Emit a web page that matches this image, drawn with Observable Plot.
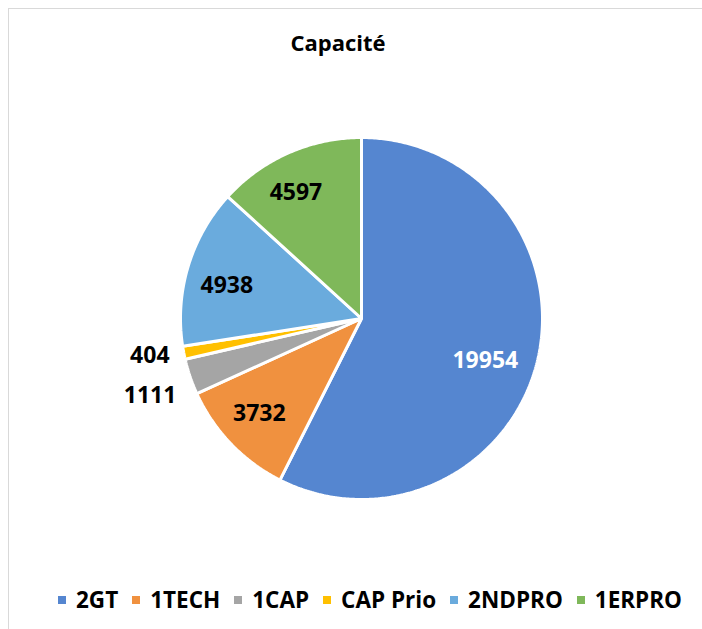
<!DOCTYPE html>
<html>
<head>
<meta charset="utf-8">
<script src="https://cdn.jsdelivr.net/npm/d3@7"></script>
<script src="https://cdn.jsdelivr.net/npm/@observablehq/plot@0.6"></script>
<style>
  html, body { margin: 0; padding: 0; background: #fff; }
  body { width: 702px; height: 629px; position: relative; overflow: hidden; font-family: "Open Sans", sans-serif; }
  #frame { position: absolute; left: 8px; top: 8px; width: 720px; height: 640px; border: 1px solid #d9d9d9; box-sizing: border-box; }
  #title { position: absolute; left: 0; top: 0; width: 676px; height: 70px; text-align: center; font-weight: bold; font-size: 22px; line-height: 84px; color: #000; }
  #chart { position: absolute; left: 0; top: 70px; }
  #legend { position: absolute; left: 58px; top: 584px; display: flex; align-items: center; font-weight: bold; font-size: 22.5px; color: #000; white-space: nowrap; }
  .item { display: flex; align-items: center; margin-right: 14px; }
  .sw { width: 8px; height: 8px; margin-right: 10px; }
</style>
</head>
<body>
<div id="frame"></div>
<div id="title">Capacité</div>
<div id="chart"></div>
<div id="legend"></div>
<script>
const categories = ["2GT", "1TECH", "1CAP", "CAP Prio", "2NDPRO", "1ERPRO"];
const values = [19954, 3732, 1111, 404, 4938, 4597];
const colors = ["#5586D0", "#F0913F", "#A5A5A5", "#FFC000", "#6AABDD", "#7FB85A"];
const outside = [false, false, true, true, false, false];
const labelColors = ["#fff", "#000", "#000", "#000", "#000", "#000"];

const W = 702, H = 500, R = 181, cx = 361, cy = 248;

const pie = d3.pie().sort(null).value(d => d.value)(
  categories.map((name, i) => ({name, value: values[i], i}))
);

// slice outlines in unit coordinates (angle 0 at 12 o'clock, clockwise)
const pts = [];
for (const s of pie) {
  pts.push({name: s.data.name, x: 0, y: 0});
  const n = Math.max(4, Math.ceil((s.endAngle - s.startAngle) / 0.01));
  for (let k = 0; k <= n; k++) {
    const a = s.startAngle + (s.endAngle - s.startAngle) * k / n;
    pts.push({name: s.data.name, x: Math.sin(a), y: Math.cos(a)});
  }
}

const labels = pie.map(s => {
  const i = s.data.i;
  const a = (s.startAngle + s.endAngle) / 2;
  const r = outside[i] ? 1.08 : 0.76;
  return {name: s.data.name, text: String(s.data.value), x: r * Math.sin(a), y: r * Math.cos(a), color: labelColors[i], out: outside[i]};
});

const lab = (name, opts) => Plot.text(labels.filter(d => d.name === name), {
  x: "x", y: "y", text: "text", fill: d => d.color, fontSize: 23, fontWeight: "bold", textAnchor: "middle", ...opts
});

const plot = Plot.plot({
  width: W, height: H,
  margin: 0,
  x: {domain: [-cx / R, (W - cx) / R], axis: null},
  y: {domain: [-(H - cy) / R, cy / R], axis: null},
  color: {domain: categories, range: colors},
  style: {fontFamily: "Open Sans, sans-serif", background: "transparent"},
  marks: [
    Plot.line(pts, {x: "x", y: "y", z: "name", fill: "name", stroke: "white", strokeWidth: 3, curve: "linear-closed", strokeLinejoin: "miter"}),
    lab("2GT", {dx: -10, dy: 10}),
    lab("1TECH", {dx: -3}),
    lab("1CAP", {textAnchor: "end", dy: 14}),
    lab("CAP Prio", {textAnchor: "end"}),
    lab("2NDPRO", {dx: -3, dy: 7}),
    lab("1ERPRO", {dx: -10})
  ]
});
document.getElementById("chart").appendChild(plot);

const legend = document.getElementById("legend");
categories.forEach((c, i) => {
  const it = document.createElement("div");
  it.className = "item";
  const sw = document.createElement("span");
  sw.className = "sw";
  sw.style.background = colors[i];
  const t = document.createElement("span");
  t.textContent = c;
  it.appendChild(sw); it.appendChild(t);
  legend.appendChild(it);
});
</script>
</body>
</html>
